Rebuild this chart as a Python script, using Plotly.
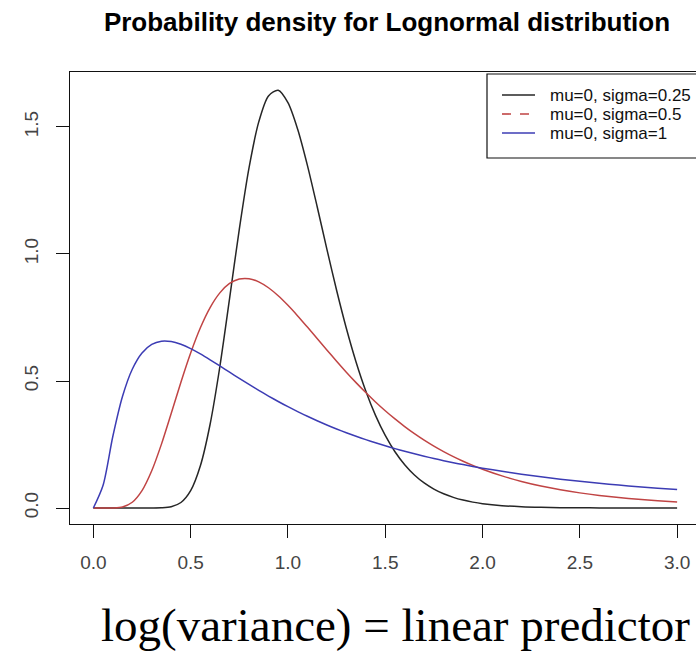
import plotly.graph_objects as go

# ---- data ----
x_vals = [0.00, 0.05, 0.10, 0.15, 0.20, 0.25, 0.30, 0.35, 0.40, 0.45,
          0.50, 0.55, 0.60, 0.65, 0.70, 0.75, 0.80, 0.85, 0.90, 0.95,
          1.00, 1.05, 1.10, 1.15, 1.20, 1.25, 1.30, 1.35, 1.40, 1.45,
          1.50, 1.55, 1.60, 1.65, 1.70, 1.75, 1.80, 1.85, 1.90, 1.95,
          2.00, 2.10, 2.20, 2.30, 2.40, 2.50, 2.60, 2.70, 2.80, 2.90, 3.00]

dens_sigma_025 = [0, 0, 0, 0, 0, 0, 0.0001, 0.0007, 0.0048, 0.0216,
                  0.0683, 0.1663, 0.3298, 0.5561, 0.8241, 1.0973, 1.3393, 1.5200, 1.6224, 1.6449,
                  1.5958, 1.4911, 1.3490, 1.1869, 1.0194, 0.8571, 0.7077, 0.5751, 0.4607, 0.3646,
                  0.2855, 0.2214, 0.1704, 0.1301, 0.0987, 0.0745, 0.0559, 0.0418, 0.0311, 0.0231,
                  0.0171, 0.0093, 0.0050, 0.0027, 0.0014, 0.0008, 0.0004, 0.0002, 0.0001, 0.0001, 0.0]

dens_sigma_05 = [0, 0, 0.0002, 0.0040, 0.0225, 0.0683, 0.1465, 0.2515, 0.3720, 0.4954,
                 0.6104, 0.7098, 0.7892, 0.8469, 0.8839, 0.9015, 0.9028, 0.8905, 0.8671, 0.8355,
                 0.7979, 0.7563, 0.7123, 0.6673, 0.6222, 0.5778, 0.5348, 0.4936, 0.4545, 0.4175,
                 0.3829, 0.3506, 0.3206, 0.2928, 0.2672, 0.2437, 0.2221, 0.2023, 0.1842, 0.1677,
                 0.1526, 0.1264, 0.1046, 0.0866, 0.0718, 0.0595, 0.0494, 0.0411, 0.0342, 0.0285, 0.0238]

dens_sigma_1 = [0, 0.0898, 0.2816, 0.4398, 0.5463, 0.6103, 0.6441, 0.6569, 0.6554, 0.6444,
                0.6274, 0.6066, 0.5835, 0.5593, 0.5348, 0.5104, 0.4864, 0.4632, 0.4408, 0.4194,
                0.3989, 0.3795, 0.3610, 0.3435, 0.3269, 0.3113, 0.2965, 0.2825, 0.2693, 0.2568,
                0.2450, 0.2338, 0.2232, 0.2133, 0.2038, 0.1949, 0.1864, 0.1784, 0.1709, 0.1637,
                0.1569, 0.1443, 0.1329, 0.1226, 0.1133, 0.1049, 0.0972, 0.0902, 0.0839, 0.0780, 0.0727]

series_names = ["mu=0, sigma=0.25", "mu=0, sigma=0.5", "mu=0, sigma=1"]
x_ticks = [0.0, 0.5, 1.0, 1.5, 2.0, 2.5, 3.0]
x_tick_labels = ["0.0", "0.5", "1.0", "1.5", "2.0", "2.5", "3.0"]
y_ticks = [0.0, 0.5, 1.0, 1.5]
y_tick_labels = ["0.0", "0.5", "1.0", "1.5"]
title_text = "Probability density for Lognormal distribution"
caption_text = "log(variance) = linear predictor"

# ---- styling ----
W, H = 696, 653
L_PX, R_PX, T_PX, B_PX = 70, 696, 72, 524
colors = ["#262626", "#C04444", "#3C3CB4"]
dashes = ["solid", "dash", "solid"]
sans = "Liberation Sans, Arial, Helvetica, sans-serif"


def px_x(p):
    return (p - L_PX) / (R_PX - L_PX)


def px_y(p):
    return (B_PX - p) / (B_PX - T_PX)


fig = go.Figure()
for ys, name, c in zip([dens_sigma_025, dens_sigma_05, dens_sigma_1], series_names, colors):
    fig.add_trace(go.Scatter(x=x_vals, y=ys, mode="lines", name=name,
                             line=dict(color=c, width=1.5, shape="spline", smoothing=0.8),
                             showlegend=False))

shapes = []
annotations = []
# legend box (cut at right edge like the reference)
shapes.append(dict(type="rect", xref="paper", yref="paper",
                   x0=px_x(487), x1=px_x(760), y0=px_y(158), y1=px_y(74),
                   line=dict(color="#111", width=1.2), fillcolor="rgba(0,0,0,0)"))
row_y = [95, 114, 133]
for name, c, d, ry in zip(series_names, colors, dashes, row_y):
    shapes.append(dict(type="line", xref="paper", yref="paper",
                       x0=px_x(502), x1=px_x(535), y0=px_y(ry), y1=px_y(ry),
                       line=dict(color=c, width=1.6, dash=d)))
    annotations.append(dict(xref="paper", yref="paper", x=px_x(548), y=px_y(ry),
                            text=name, showarrow=False, xanchor="left", yanchor="middle",
                            font=dict(family=sans, size=17, color="#111")))

annotations.append(dict(xref="paper", yref="paper", x=px_x(395), y=px_y(625),
                        text=caption_text, showarrow=False, xanchor="center", yanchor="middle",
                        font=dict(family="Liberation Serif, Times New Roman, serif", size=47, color="#000")))

fig.update_layout(
    width=W, height=H,
    margin=dict(l=L_PX, r=W - R_PX, t=T_PX, b=H - B_PX, pad=0),
    paper_bgcolor="white", plot_bgcolor="white",
    title=dict(text="<b>" + title_text + "</b>", x=387 / W, xref="container", xanchor="center",
               y=1 - 22 / H, yref="container", yanchor="middle",
               font=dict(family=sans, size=26, color="#000")),
    xaxis=dict(range=[-0.12, 3.097], tickvals=x_ticks, ticktext=x_tick_labels,
               showgrid=False, zeroline=False, showline=True, linecolor="#111", linewidth=1.2,
               mirror=True, ticks="outside", ticklen=13, tickwidth=1.2, tickcolor="#111",
               tickfont=dict(family=sans, size=19, color="#444"), ticklabelstandoff=8),
    yaxis=dict(range=[-0.063, 1.7165], tickvals=y_ticks, ticktext=y_tick_labels,
               showgrid=False, zeroline=False, showline=True, linecolor="#111", linewidth=1.2,
               mirror=False, ticks="outside", ticklen=13, tickwidth=1.2, tickcolor="#111",
               tickangle=-90, tickfont=dict(family=sans, size=19, color="#444"),
               ticklabelstandoff=10),
    shapes=shapes,
    annotations=annotations,
)

fig.write_html("out.html")
